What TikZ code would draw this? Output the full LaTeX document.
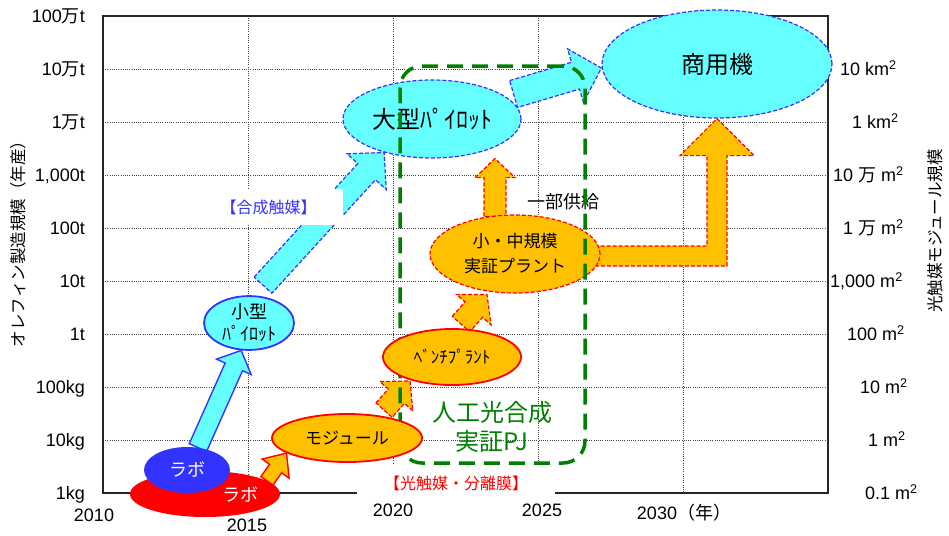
\documentclass[tikz,border=0pt]{standalone}
\usepackage{fontspec}
\setmainfont{Liberation Sans}
\newfontfamily\jp{Noto Sans CJK JP}
\usepackage{xcolor}
\definecolor{plcyan}{RGB}{102,255,255}
\definecolor{plblue}{RGB}{51,51,255}
\definecolor{plorange}{RGB}{255,192,0}
\definecolor{plred}{RGB}{255,0,0}
\definecolor{plgreen}{RGB}{0,128,0}
\usetikzlibrary{shapes.geometric, calc, positioning}

\pgfdeclarelayer{back}
\pgfdeclarelayer{arrows}
\pgfdeclarelayer{top}
\pgfsetlayers{back,arrows,main,top}

\newcommand{\jpman}{{\jp 万}}
\newcommand{\msq}{m\textsuperscript{2}}

% block arrow: [style]{from}{to}{half shaft}{half head}{head length}
\newcommand{\blockarrow}[6][]{%
  \path (#2) coordinate (ba-s) (#3) coordinate (ba-t);
  \path ($(ba-t)!#6!(ba-s)$) coordinate (ba-h);
  \draw[#1] ($(ba-s)!#4!90:(ba-t)$) -- ($(ba-h)!#4!-90:(ba-s)$)
    -- ($(ba-h)!#5!-90:(ba-s)$) -- (ba-t) -- ($(ba-h)!#5!90:(ba-s)$)
    -- ($(ba-h)!#4!90:(ba-s)$) -- ($(ba-s)!#4!-90:(ba-t)$) -- cycle;
}

\tikzset{
  gridline/.style={black!75, line width=0.8pt, dash pattern=on 1pt off 1.2pt},
  frameline/.style={black!85, line width=1.3pt},
  tick/.style={font=\fontsize{18}{20}\selectfont, inner sep=0pt, text height=13pt, text depth=0pt},
  ytitle/.style={font=\jp\fontsize{16.5}{18}\selectfont, inner sep=0pt, rotate=90},
  ellbase/.style={ellipse, inner sep=0pt, align=center},
  cyanell/.style={ellbase, fill=plcyan, draw=plblue},
  orangeell/.style={ellbase, fill=plorange, draw=plred},
  solidrim/.style={line width=1.8pt},
  dashrim/.style={line width=1.2pt, dash pattern=on 4pt off 2pt},
  cyanarrow/.style={fill=plcyan, draw=plblue, line width=1.4pt},
  orangearrow/.style={fill=plorange, draw=plred, line width=1.4pt},
  whitebox/.style={fill=white, inner sep=0pt, font=\jp\fontsize{16}{18}\selectfont},
  jptext/.style={font=\jp\fontsize{#1}{#1}\selectfont, inner sep=0pt, align=center},
  greenbox/.style={draw=plgreen, line width=3.5pt, dash pattern=on 16pt off 9pt, rounded corners=22pt}
}

\begin{document}
\begin{tikzpicture}[x=1pt,y=-1pt]
  \useasboundingbox (0,0) rectangle (949,535);

  \begin{pgfonlayer}{back}
    % grid and frame
    \foreach \yy in {69,122,...,440} \draw[gridline] (103,\yy) -- (828,\yy);
    \foreach \xx in {248,393,...,683} \draw[gridline] (\xx,16) -- (\xx,493);
    \draw[frameline] (103,16) rectangle (828,493);
    % left scale
    \node[tick, anchor=east] (yl0) at (85,16) {100\jpman t};
    \node[tick, anchor=east] (yl1) at (85,69) {10\jpman t};
    \node[tick, anchor=east] (yl2) at (85,122) {1\jpman t};
    \node[tick, anchor=east] (yl3) at (85,175) {1,000t};
    \node[tick, anchor=east] (yl4) at (85,228) {100t};
    \node[tick, anchor=east] (yl5) at (85,281) {10t};
    \node[tick, anchor=east] (yl6) at (85,334) {1t};
    \node[tick, anchor=east] (yl7) at (85,387) {100kg};
    \node[tick, anchor=east] (yl8) at (85,440) {10kg};
    \node[tick, anchor=east] (yl9) at (85,493) {1kg};
    % right scale
    \node[tick, anchor=west] (yr1) at (840,69) {10 km\textsuperscript{2}};
    \node[tick, anchor=west] (yr2) at (852,122) {1 km\textsuperscript{2}};
    \node[tick, anchor=west] (yr3) at (833,175) {10 \jpman\ \msq};
    \node[tick, anchor=west] (yr4) at (843,228) {1 \jpman\ \msq};
    \node[tick, anchor=west] (yr5) at (830,281) {1,000 \msq};
    \node[tick, anchor=west] (yr6) at (847,334) {100 \msq};
    \node[tick, anchor=west] (yr7) at (860,387) {10 \msq};
    \node[tick, anchor=west] (yr8) at (868,440) {1 \msq};
    \node[tick, anchor=west] (yr9) at (865,493) {0.1 \msq};
    % years
    \node[tick] (x2010) at (94,515) {2010};
    \node[tick] (x2015) at (247,525) {2015};
    \node[tick] (x2020) at (393,510) {2020};
    \node[tick] (x2025) at (542,510) {2025};
    \node[tick] (x2030) at (684,513) {2030{\jp （年）}};
    % axis titles
    \node[ytitle] (titleL) at (18,240) {オレフィン製造規模（年産）};
    \node[ytitle] (titleR) at (935,231) {光触媒モジュール規模};
  \end{pgfonlayer}

  % catalyst line
  \node[ellbase, fill=plred, minimum width=150pt, minimum height=46pt] (laboR) at (205,494) {};
  \node[jptext=18, text=white] (laboRtxt) at (240,495) {ラボ};
  \node[ellbase, fill=plblue, text=white, font=\jp\fontsize{18}{18}\selectfont,
        minimum width=86pt, minimum height=46pt] (laboB) at (187,470) {ラボ};
  \node[cyanell, solidrim, font=\jp\fontsize{18}{22}\selectfont,
        minimum width=90pt, minimum height=46pt] (pilotS) at (249,323) {小型\\ﾊﾟｲﾛｯﾄ};
  \node[whitebox, text=plblue, minimum width=149pt, minimum height=36pt] (synCat) at (268.5,207) {【合成触媒】};
  \node[cyanell, dashrim, font=\jp\fontsize{24}{24}\selectfont,
        minimum width=178pt, minimum height=78pt] (pilotL) at (432,119) {大型ﾊﾟｲﾛｯﾄ};
  \node[cyanell, dashrim, font=\jp\fontsize{24}{24}\selectfont,
        minimum width=230pt, minimum height=108pt] (commercial) at (717,64) {商用機};
  % module line
  \node[orangeell, dashrim, font=\jp\fontsize{17}{25}\selectfont,
        minimum width=170pt, minimum height=78pt] (plantM) at (515,254) {小・中規模\\実証プラント};
  \node[jptext=18] (partSupply) at (563,202) {一部供給};
  % demonstration project
  \node[greenbox, minimum width=185pt, minimum height=397pt] (demoPJ) at (492.5,264.5) {};
  \node[jptext=24, text=plgreen, font=\jp\fontsize{24}{29}\selectfont] (pjText) at (492,427) {人工光合成\\実証PJ};
  \node[whitebox, text=plred, minimum width=198pt, minimum height=36pt] (photoCat) at (456,483) {【光触媒・分離膜】};

  \begin{pgfonlayer}{top}
    \node[orangeell, solidrim, font=\jp\fontsize{17}{17}\selectfont,
          minimum width=138pt, minimum height=56pt] (bench) at (452,357) {ﾍﾞﾝﾁﾌﾟﾗﾝﾄ};
    \node[orangeell, solidrim, font=\jp\fontsize{17}{17}\selectfont,
          minimum width=150pt, minimum height=48pt] (module) at (347,438) {モジュール};
  \end{pgfonlayer}

  \begin{pgfonlayer}{arrows}
    % cyan arrows
    \blockarrow[cyanarrow]{laboB.64}{pilotS.-106}{9.5pt}{19pt}{18pt}
    \blockarrow[cyanarrow, dashrim]{$(pilotS.north)+(14,-10)$}{pilotL.-145}{12pt}{26.5pt}{26pt}
    \blockarrow[cyanarrow, dashrim]{$(pilotL.east)+(-8,-25)$}{$(commercial.west)+(0,4)$}{14pt}{28pt}{27pt}
    % orange arrows
    \blockarrow[orangearrow]{laboR.12}{module.-166}{7.4pt}{16.5pt}{19pt}
    \blockarrow[orangearrow, dashrim]{$(module.north)+(37,-3)$}{$(bench.south)+(-42,-5)$}{10.8pt}{22pt}{20.5pt}
    \blockarrow[orangearrow, dashrim]{$(bench.north)+(9,-4)$}{$(plantM.south)+(-28,1)$}{11.7pt}{23pt}{20pt}
    \coordinate (supTail) at ($(plantM.north)+(-20,2)$);
    \blockarrow[orangearrow, dashrim]{supTail}{supTail |- pilotL.south}{11pt}{20pt}{19pt}
    \draw[orangearrow, dashrim] ($(plantM.east)+(-6,-8)$) -| ($(commercial.south)+(-10,37)$)
      -- ++(-27,0) -- (commercial.south) -- ++(37,37) -- ++(-27,0)
      |- ($(plantM.east)+(-6,12)$) -- cycle;
  \end{pgfonlayer}
\end{tikzpicture}
\end{document}
